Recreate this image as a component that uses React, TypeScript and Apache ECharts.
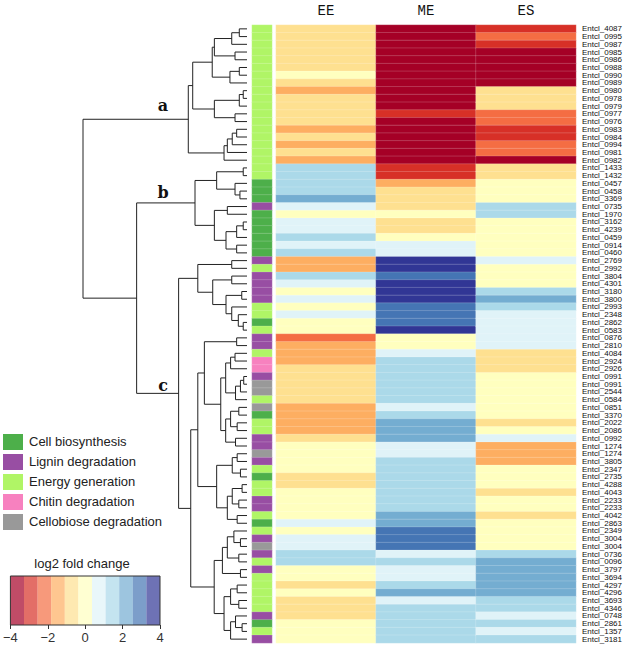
import React, { useEffect, useRef } from "react";
import * as echarts from "echarts";

const conditions = ["EE", "ME", "ES"];

const genes = [
  "Entcl_4087", "Entcl_0995", "Entcl_0987", "Entcl_0985", "Entcl_0986", "Entcl_0988", "Entcl_0990", "Entcl_0989",
  "Entcl_0980", "Entcl_0978", "Entcl_0979", "Entcl_0977", "Entcl_0976", "Entcl_0983", "Entcl_0984", "Entcl_0994",
  "Entcl_0981", "Entcl_0982", "Entcl_1433", "Entcl_1432", "Entcl_0457", "Entcl_0458", "Entcl_3369", "Entcl_0735",
  "Entcl_1970", "Entcl_3162", "Entcl_4239", "Entcl_0459", "Entcl_0914", "Entcl_0460", "Entcl_2769", "Entcl_2992",
  "Entcl_3804", "Entcl_4301", "Entcl_3180", "Entcl_3800", "Entcl_2993", "Entcl_2348", "Entcl_2862", "Entcl_0583",
  "Entcl_0876", "Entcl_2810", "Entcl_4084", "Entcl_2924", "Entcl_2926", "Entcl_0991", "Entcl_0991", "Entcl_2544",
  "Entcl_0584", "Entcl_0851", "Entcl_3370", "Entcl_2022", "Entcl_2086", "Entcl_0992", "Entcl_1274", "Entcl_1274",
  "Entcl_3805", "Entcl_2347", "Entcl_2735", "Entcl_4288", "Entcl_4043", "Entcl_2233", "Entcl_2233", "Entcl_4042",
  "Entcl_2863", "Entcl_2349", "Entcl_3004", "Entcl_3004", "Entcl_0736", "Entcl_0096", "Entcl_3797", "Entcl_3694",
  "Entcl_4297", "Entcl_4296", "Entcl_3693", "Entcl_4346", "Entcl_0748", "Entcl_2861", "Entcl_1357", "Entcl_3181",
];

// log2 fold change per condition (row order = genes)
const log2EE = [
  -0.7, -0.7, -0.7, -0.7, -0.7, -0.7, 0, -0.7, -1.5, -0.7, -0.7, -0.7, -0.7, -1.5, -0.7, -1.5, -0.7, -1.5, 1.5, 1.5,
  1.5, 1.5, 2.2, 0.7, 0, 0.7, 0.7, 1.5, 0.7, 1.5, -1.5, -1.5, 1.5, 0.7, 0, 0.7, 0, 0.7, 0, 0,
  -2.2, -1.5, -1.5, -1.5, -0.7, -0.7, -0.7, -0.7, -0.7, -1.5, -1.5, -1.5, -1.5, -0.7, 0, 0, 0, 0, -0.7, -0.7,
  0, 0, 0, 0, 0.7, 0, 0.7, 0.7, 1.5, 1.5, 0, 0, -0.7, 0, -0.7, -0.7, -0.7, 0, 0, 0,
];
const log2ME = [
  -3.6, -3.6, -3.6, -3.6, -3.6, -3.6, -3.6, -3.6, -3.6, -3.6, -3.6, -2.9, -3.6, -3.6, -3.6, -3.6, -3.6, -3.6, -2.9, -2.9,
  -1.5, -0.7, -0.7, -0.7, 0, -0.7, -0.7, 0, 0.7, 0.7, 3.6, 3.6, 2.9, 3.6, 3.6, 3.6, 2.9, 2.9, 2.9, 3.6,
  0, 0, 0.7, 1.5, 1.5, 1.5, 1.5, 1.5, 1.5, 0.7, 1.5, 2.2, 2.2, 2.2, 0.7, 0.7, 1.5, 1.5, 1.5, 1.5,
  1.5, 1.5, 1.5, 2.2, 2.2, 2.9, 2.9, 2.9, 0.7, 1.5, 0.7, 0.7, 1.5, 2.2, 0.7, 1.5, 1.5, 1.5, 1.5, 1.5,
];
const log2ES = [
  -2.9, -2.2, -2.9, -3.6, -3.6, -3.6, -3.6, -3.6, -0.7, -0.7, -0.7, -2.2, -2.2, -2.9, -2.9, -2.2, -2.2, -3.6, -0.7, -0.7,
  0, 0, 0, 1.5, 1.5, 0, 0, 0, 0, 0, 0.7, 0, 0, 0, 1.5, 2.2, 1.5, 0.7, 0.7, 0.7,
  0.7, 0.7, -0.7, -0.7, -0.7, 0, 0, 0, 0, 0, 0, -0.7, 0, 0.7, -1.5, -1.5, -1.5, 0, 0, 0,
  -0.7, 0, 0, -0.7, 0, 0, 0, 0, 1.5, 2.2, 2.2, 2.2, 2.2, 2.2, 1.5, 1.5, 0.7, 1.5, 0.7, 1.5,
];

const functionNames = ["Cell biosynthesis", "Lignin degradation", "Energy generation", "Chitin degradation", "Cellobiose degradation"];
const functionColors = ["#4daf4a", "#984ea3", "#b0f566", "#f781bf", "#999999"];
// functional class of each gene (index into functionNames)
const geneFunction = [
  2, 2, 2, 2, 2, 2, 2, 2, 2, 2, 2, 2, 2, 2, 2, 2, 2, 2, 2, 2,
  0, 0, 0, 1, 0, 0, 0, 0, 0, 0, 1, 2, 1, 1, 1, 1, 2, 2, 0, 2,
  1, 1, 2, 3, 3, 1, 4, 4, 2, 4, 0, 2, 2, 1, 1, 4, 1, 2, 0, 2,
  2, 1, 1, 2, 0, 2, 1, 4, 1, 2, 1, 2, 2, 2, 2, 2, 1, 0, 2, 1,
];

const paletteColors = ["#a50026", "#d73027", "#f46d43", "#fdae61", "#fee090", "#ffffbf", "#e0f3f8", "#abd9e9", "#74add1", "#4575b4", "#313695"];
const scaleMin = -4;
const scaleMax = 4;
const colorbarTicks = [-4, -2, 0, 2, 4];

// hierarchical clustering: [childA, childB, height]; negative = leaf (1-based row), positive = earlier merge (1-based)
const merges: [number, number, number][] = [
  [-1, -2, 0.47], [1, -3, 0.93], [-4, -5, 0.73], [2, 3, 1.99], [-6, -7, 0.47], [5, -8, 1.04], [4, 6, 2.12],
  [-9, -10, 0.23], [8, -11, 0.47], [-12, -13, 0.73], [9, 10, 1.99], [7, 11, 3.31], [-14, -15, 0.63], [13, -16, 0.9],
  [14, -17, 1.2], [15, -18, 1.4], [12, 16, 3.58],
  [-19, -20, 0.23], [-22, -23, 0.43], [-21, 19, 0.73], [18, 20, 1.85], [-24, -25, 1.2], [-26, -27, 0.23], [23, -28, 0.63],
  [-29, -30, 0.63], [24, 25, 1.28], [22, 26, 1.99], [21, 27, 3.17],
  [-31, -32, 0.93], [-33, -34, 0.93], [-35, -36, 0.32], [-39, -40, 0.23], [-38, 32, 0.53], [-37, 33, 0.93], [31, 34, 1.28],
  [30, 35, 2.09], [29, 36, 3.0],
  [-41, -42, 0.63], [-43, -44, 0.73], [39, -45, 1.0], [-46, -47, 0.2], [41, -48, 0.4], [42, -49, 0.7], [40, 43, 1.3],
  [-50, -51, 0.5], [-52, -53, 0.6], [45, 46, 1.0], [-54, -55, 0.7], [47, 48, 1.3], [44, 49, 1.6], [38, 50, 2.6],
  [-56, -57, 0.6], [-58, -59, 0.4], [52, 53, 0.9], [-60, -61, 0.3], [-62, -63, 0.5], [55, 56, 0.9], [-64, -65, 0.6],
  [57, 58, 1.2], [54, 59, 1.85], [51, 60, 3.0],
  [-67, -68, 0.4], [-66, 62, 0.8], [-69, -70, 0.5], [63, 64, 1.2], [-71, -72, 0.4], [65, 66, 1.5], [-73, -74, 0.6],
  [-75, -76, 0.5], [68, 69, 1.0], [-78, -79, 0.3], [-77, 71, 0.7], [72, -80, 1.0], [70, 73, 1.4], [67, 74, 2.0],
  [61, 75, 3.43], [37, 76, 4.17], [28, 77, 6.73], [17, 78, 10],
];

const clusterLabels = ["a", "b", "c"];

export default function App() {
  const ref = useRef<HTMLDivElement>(null);
  useEffect(() => {
    if (!ref.current) return;
    const chart = echarts.init(ref.current, null, { renderer: "svg" });
    const nRows = genes.length;

    const heatData: any[] = [];
    [log2EE, log2ME, log2ES].forEach((vals, c) => vals.forEach((v, r) => heatData.push([c, r, v])));
    const annoData = geneFunction.map((f, r) => [0, r, f]);

    const step = (scaleMax - scaleMin) / paletteColors.length;
    const pieces = paletteColors.map((color, i) => {
      const p: any = { gte: scaleMin + i * step, color };
      if (i < paletteColors.length - 1) p.lt = scaleMin + (i + 1) * step; else p.lte = scaleMax;
      return p;
    });
    const barBins = paletteColors.map((color, i) => [scaleMin + i * step, scaleMin + (i + 1) * step, i]);

    const nodeY: number[] = [];
    const nodeH: number[] = [];
    const segs: number[][] = [];
    const pos = (id: number) => (id < 0 ? { y: -id - 0.5, h: 0 } : { y: nodeY[id - 1], h: nodeH[id - 1] });
    merges.forEach(([a, b, h]) => {
      const A = pos(a), B = pos(b);
      nodeY.push((A.y + B.y) / 2);
      nodeH.push(h);
      segs.push([A.h, A.y, h, B.y, B.h]);
    });

    const top = 25, height = 618;
    const legendGraphics: any[] = [];
    functionNames.forEach((name, i) => {
      legendGraphics.push({ type: "rect", left: 3, top: 434 + i * 20, shape: { width: 20, height: 16 }, style: { fill: functionColors[i] } });
      legendGraphics.push({ type: "text", left: 29, top: 434 + i * 20 + 1, style: { text: name, fill: "#222", font: "13px 'Liberation Sans', Arial, sans-serif" } });
    });
    const labelPos = [[163, 105], [163, 192], [163, 385]];
    clusterLabels.forEach((t, i) => {
      legendGraphics.push({ type: "text", x: labelPos[i][0], y: labelPos[i][1], style: { text: t, fill: "#111", font: "bold 16px 'DejaVu Serif', serif", textAlign: "center", textVerticalAlign: "middle" } });
    });
    legendGraphics.push({ type: "text", x: 82, y: 563, style: { text: "log2 fold change", fill: "#222", font: "13px 'Liberation Sans', Arial, sans-serif", textAlign: "center", textVerticalAlign: "middle" } });

    chart.setOption({
      animation: false,
      backgroundColor: "#ffffff",
      grid: [
        { left: 276, top, width: 300, height },
        { left: 252, top, width: 20, height },
        { left: 83, top, width: 164, height },
        { left: 8, top: 576, width: 152, height: 49 },
      ],
      xAxis: [
        { gridIndex: 0, type: "category", data: conditions, position: "top", axisLine: { show: false }, axisTick: { show: false },
          axisLabel: { fontFamily: "'Liberation Mono', 'DejaVu Sans Mono', monospace", fontSize: 14, color: "#111", margin: 7 } },
        { gridIndex: 1, type: "category", data: ["f"], show: false },
        { gridIndex: 2, type: "value", min: 0, max: 10, inverse: true, show: false },
        { gridIndex: 3, type: "value", min: scaleMin, max: scaleMax, interval: 2, position: "bottom",
          axisLine: { show: false }, splitLine: { show: false },
          axisTick: { show: true, length: 4, lineStyle: { color: "#333" } },
          axisLabel: { fontSize: 13, color: "#333", fontFamily: "'Liberation Sans', Arial, sans-serif", margin: 6,
            formatter: (v: number) => String(v).replace("-", "\u2212") } },
      ],
      yAxis: [
        { gridIndex: 0, type: "category", data: genes, inverse: true, position: "right", axisLine: { show: false }, axisTick: { show: false },
          axisLabel: { interval: 0, fontSize: 8, lineHeight: 7.7, color: "#111", margin: 6, fontFamily: "'Liberation Sans', Arial, sans-serif" } },
        { gridIndex: 1, type: "category", data: genes, inverse: true, show: false },
        { gridIndex: 2, type: "value", min: 0, max: nRows, inverse: true, show: false },
        { gridIndex: 3, type: "value", min: 0, max: 1, show: false },
      ],
      visualMap: [
        { type: "piecewise", show: false, seriesIndex: 0, dimension: 2, pieces },
        { type: "piecewise", show: false, seriesIndex: 1, dimension: 2, pieces: functionColors.map((color, i) => ({ value: i, color })) },
      ],
      series: [
        { type: "heatmap", xAxisIndex: 0, yAxisIndex: 0, data: heatData,
          itemStyle: { borderColor: "rgba(255,255,255,0.3)", borderWidth: 0.6 } },
        { type: "heatmap", xAxisIndex: 1, yAxisIndex: 1, data: annoData,
          itemStyle: { borderColor: "rgba(255,255,255,0.3)", borderWidth: 0.6 } },
        { type: "custom", xAxisIndex: 2, yAxisIndex: 2, data: segs, silent: true,
          renderItem: (params: any, api: any) => {
            const hA = api.value(0), yA = api.value(1), h = api.value(2), yB = api.value(3), hB = api.value(4);
            return { type: "polyline", shape: { points: [api.coord([hA, yA]), api.coord([h, yA]), api.coord([h, yB]), api.coord([hB, yB])] },
              style: { stroke: "#222", fill: null, lineWidth: 1 } };
          } },
        { type: "custom", xAxisIndex: 3, yAxisIndex: 3, data: barBins, silent: true,
          renderItem: (params: any, api: any) => {
            const p0 = api.coord([api.value(0), 1]);
            const p1 = api.coord([api.value(1), 0]);
            return { type: "rect", shape: { x: p0[0], y: p0[1], width: p1[0] - p0[0], height: p1[1] - p0[1] },
              style: { fill: paletteColors[api.value(2)], opacity: 0.7, stroke: null } };
          } },
        { type: "custom", xAxisIndex: 3, yAxisIndex: 3, data: [[scaleMin, scaleMax]], silent: true, z: 5,
          renderItem: (params: any, api: any) => {
            const p0 = api.coord([api.value(0), 1]);
            const p1 = api.coord([api.value(1), 0]);
            return { type: "rect", shape: { x: p0[0], y: p0[1], width: p1[0] - p0[0], height: p1[1] - p0[1] },
              style: { fill: null, stroke: "#333", lineWidth: 1 } };
          } },
      ],
      graphic: legendGraphics,
    });
    return () => chart.dispose();
  }, []);
  return <div ref={ref} style={{ position: "fixed", left: 0, top: 0, width: 625, height: 649, background: "#fff" }} />;
}
